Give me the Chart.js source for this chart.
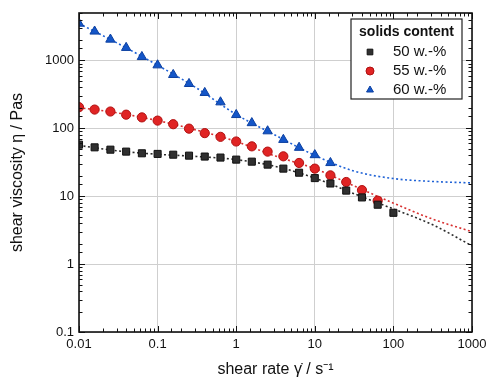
<!DOCTYPE html>
<html>
<head>
<meta charset="utf-8">
<script src="https://cdn.jsdelivr.net/npm/chart.js@4/dist/chart.umd.min.js"></script>
<style>
  html, body { margin: 0; padding: 0; background: #fff; }
  #wrap { width: 488px; height: 378px; }
</style>
</head>
<body>
<div id="wrap"><canvas id="viscChart" width="488" height="378"></canvas></div>
<script>
// shear rate of the measured points (5 per decade)
const shearRate = [0.01, 0.0158, 0.0251, 0.0398, 0.0631, 0.1, 0.158, 0.251, 0.398, 0.631,
  1, 1.58, 2.51, 3.98, 6.31, 10, 15.8, 25.1, 39.8, 63.1, 100];

// measured viscosity, Pas
const visc50 = [57.5, 52.5, 48.5, 45.4, 42.9, 42, 40.9, 39.6, 38.4, 37.1,
  34.6, 32.3, 29.2, 25.5, 22.2, 18.5, 15.4, 12.1, 9.6, 7.5, 5.7];
const visc55 = [205, 189, 177, 159, 145, 130, 115, 99, 85, 75,
  64, 54.3, 45.4, 38.7, 30.9, 25.5, 20.3, 16.2, 12.3, 8.6];
const visc60 = [3500, 2680, 2040, 1540, 1130, 852, 615, 453, 334, 243,
  158, 120, 91, 68, 52, 40.5, 31];

// fitted model curves
const fitRate = [0.01, 0.0316, 0.1, 0.316, 1, 3.16, 10, 31.6, 100, 316, 1000];
const fit50 = [56, 46.5, 41.5, 38.5, 34.6, 27.5, 18.5, 10.9, 6.5, 3.8, 1.86];
const fit55 = [202, 168, 130, 94, 64, 39, 25.5, 14.2, 7.9, 4.6, 3.0];
const fit60 = [3500, 1770, 850, 390, 160, 79, 40, 23.5, 18.2, 16.5, 15.7];

const xTickLabels = [0.01, 0.1, 1, 10, 100, 1000];
const yTickLabels = [0.1, 1, 10, 100, 1000];

const seriesNames = ["50 w.-%", "55 w.-%", "60 w.-%"];
const legendTitle = "solids content";

const FONT = "'Liberation Sans', Arial, sans-serif";

function isDecade(v) {
  const l = Math.log10(v);
  return Math.abs(l - Math.round(l)) < 1e-6;
}

function pts(xs, ys) {
  return ys.map((v, i) => ({ x: xs[i], y: v }));
}

const styles = [
  { fill: "#303030", border: "#111111", line: "#2a2a2a", shape: "rect", r: 5 },
  { fill: "#e02424", border: "#b01010", line: "#d83030", shape: "circle", r: 4.6 },
  { fill: "#1456c8", border: "#0b3fa0", line: "#1f62d6", shape: "triangle", r: 5.4 },
];

const measured = [visc50, visc55, visc60];
const fits = [fit50, fit55, fit60];

const datasets = [];
measured.forEach((vals, i) => {
  datasets.push({
    label: seriesNames[i],
    data: pts(shearRate, vals),
    showLine: false,
    pointStyle: styles[i].shape,
    pointRadius: styles[i].r,
    pointBackgroundColor: styles[i].fill,
    pointBorderColor: styles[i].border,
    pointBorderWidth: 1,
    order: 0,
  });
});
fits.forEach((vals, i) => {
  datasets.push({
    label: "fit " + seriesNames[i],
    data: pts(fitRate, vals),
    showLine: true,
    borderColor: styles[i].line,
    borderWidth: 1.6,
    borderDash: [2, 2.5],
    pointRadius: 0,
    cubicInterpolationMode: "monotone",
    fill: false,
    order: 1,
  });
});

// inward tick marks on all four sides + frame
const frameTicks = {
  id: "frameTicks",
  afterDraw(chart) {
    const { ctx, chartArea: a, scales } = chart;
    const x = scales.x, y = scales.y;
    ctx.save();
    ctx.strokeStyle = "#111";
    ctx.lineWidth = 1;
    ctx.beginPath();
    x.ticks.forEach((t) => {
      if (t.value < x.min || t.value > x.max) return;
      const px = Math.round(x.getPixelForValue(t.value)) + 0.5;
      const len = isDecade(t.value) ? 6 : 3.5;
      ctx.moveTo(px, a.bottom); ctx.lineTo(px, a.bottom - len);
      ctx.moveTo(px, a.top); ctx.lineTo(px, a.top + len);
    });
    y.ticks.forEach((t) => {
      if (t.value < y.min || t.value > y.max) return;
      const py = Math.round(y.getPixelForValue(t.value)) + 0.5;
      const len = isDecade(t.value) ? 6 : 3.5;
      ctx.moveTo(a.left, py); ctx.lineTo(a.left + len, py);
      ctx.moveTo(a.right, py); ctx.lineTo(a.right - len, py);
    });
    ctx.stroke();
    ctx.lineWidth = 1.6;
    ctx.strokeRect(a.left, a.top, a.right - a.left, a.bottom - a.top);
    ctx.restore();
  },
};

// boxed legend in the upper right corner of the plot
const boxLegend = {
  id: "boxLegend",
  afterDraw(chart) {
    const { ctx, chartArea: a } = chart;
    const bx = a.right - 121, by = a.top + 6, bw = 111, bh = 80;
    ctx.save();
    ctx.fillStyle = "#fff";
    ctx.fillRect(bx, by, bw, bh);
    ctx.strokeStyle = "#222";
    ctx.lineWidth = 1.2;
    ctx.strokeRect(bx, by, bw, bh);
    ctx.fillStyle = "#111";
    ctx.font = "bold 14px " + FONT;
    ctx.textAlign = "center";
    ctx.textBaseline = "middle";
    ctx.fillText(legendTitle, bx + bw / 2, by + 13);
    ctx.font = "15px " + FONT;
    ctx.textAlign = "left";
    seriesNames.forEach((name, i) => {
      const ry = by + 33 + i * 19;
      ctx.fillStyle = styles[i].fill;
      ctx.strokeStyle = styles[i].border;
      ctx.lineWidth = 1;
      Chart.helpers.drawPoint(ctx, { pointStyle: styles[i].shape, radius: 4, rotation: 0, borderWidth: 1 }, bx + 19, ry);
      ctx.fillStyle = "#111";
      ctx.fillText(name, bx + 42, ry);
    });
    ctx.restore();
  },
};

new Chart(document.getElementById("viscChart"), {
  type: "scatter",
  data: { datasets },
  options: {
    responsive: false,
    animation: false,
    layout: { padding: { left: 0, right: 16, top: 13, bottom: 0 } },
    plugins: { legend: { display: false }, tooltip: { enabled: false } },
    scales: {
      x: {
        type: "logarithmic",
        min: 0.01,
        max: 1000,
        grid: {
          color: (c) => (c.tick && isDecade(c.tick.value) ? "#cfcfcf" : "rgba(0,0,0,0)"),
          lineWidth: 1,
          drawTicks: false,
        },
        border: { display: false },
        ticks: {
          autoSkip: false,
          maxRotation: 0,
          padding: 5,
          color: "#111",
          font: { family: FONT, size: 13 },
          callback: (v) => (xTickLabels.some((t) => Math.abs(t - v) / t < 1e-6) ? String(v) : ""),
        },
        title: {
          display: true,
          text: "shear rate γ̇ / s⁻¹",
          color: "#111",
          font: { family: FONT, size: 16, lineHeight: 1 },
          padding: { top: 0, bottom: 0 },
        },
        afterFit(s) {
          s.height = 46;
          s.paddingLeft = 0;
          s.paddingRight = 0;
        },
      },
      y: {
        type: "logarithmic",
        min: 0.1,
        max: 5000,
        grid: {
          color: (c) => (c.tick && isDecade(c.tick.value) ? "#cfcfcf" : "rgba(0,0,0,0)"),
          lineWidth: 1,
          drawTicks: false,
        },
        border: { display: false },
        ticks: {
          autoSkip: false,
          padding: 5,
          color: "#111",
          font: { family: FONT, size: 13 },
          callback: (v) => (yTickLabels.some((t) => Math.abs(t - v) / t < 1e-6) ? String(v) : ""),
        },
        title: {
          display: true,
          text: "shear viscosity η / Pas",
          color: "#111",
          font: { family: FONT, size: 16 },
          padding: { top: 8, bottom: 0 },
        },
        afterFit(s) {
          s.width = 79;
          s.paddingTop = 0;
          s.paddingBottom = 0;
        },
      },
    },
  },
  plugins: [frameTicks, boxLegend],
});
</script>
</body>
</html>
